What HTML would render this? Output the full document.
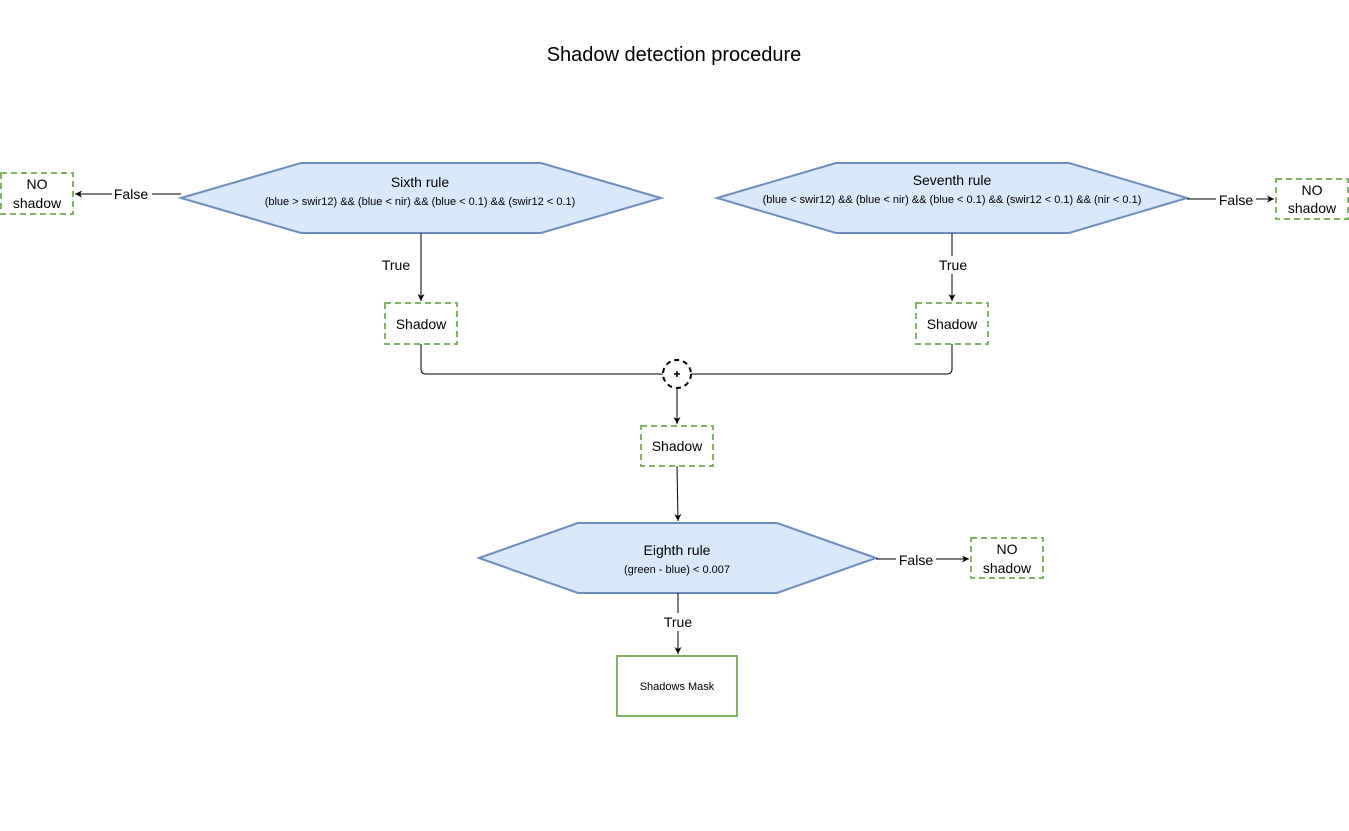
<!DOCTYPE html>
<html><head><meta charset="utf-8"><style>
body{margin:0;background:#fff}
svg text{font-family:"Liberation Sans",Arial,sans-serif;fill:#000}
</style></head><body>
<svg width="1349" height="826" viewBox="0 0 1349 826" xmlns="http://www.w3.org/2000/svg">
<defs><marker id="a" markerWidth="8" markerHeight="8" refX="7" refY="4" orient="auto" markerUnits="userSpaceOnUse"><path d="M0,0.5 L7,4 L0,7.5 L2,4 Z" fill="#000"/></marker></defs>
<text x="674" y="61" font-size="20" text-anchor="middle">Shadow detection procedure</text>
<g fill="#dae8fc" stroke="#6c8ebf" stroke-width="2">
<polygon points="181,198 301,163 541,163 661,198 541,233 301,233"/>
<polygon points="717,198 836,163 1069,163 1187,198 1069,233 836,233"/>
<polygon points="479,558 578,523 777,523 876,558 777,593 578,593"/>
</g>
<text x="420" y="187" font-size="14" text-anchor="middle">Sixth rule</text>
<text x="420" y="205" font-size="11" text-anchor="middle">(blue &gt; swir12) &amp;&amp; (blue &lt; nir) &amp;&amp; (blue &lt; 0.1) &amp;&amp; (swir12 &lt; 0.1)</text>
<text x="952" y="185" font-size="14" text-anchor="middle">Seventh rule</text>
<text x="952" y="203" font-size="11" text-anchor="middle">(blue &lt; swir12) &amp;&amp; (blue &lt; nir) &amp;&amp; (blue &lt; 0.1) &amp;&amp; (swir12 &lt; 0.1) &amp;&amp; (nir &lt; 0.1)</text>
<text x="677" y="555" font-size="14" text-anchor="middle">Eighth rule</text>
<text x="677" y="573" font-size="11" text-anchor="middle">(green - blue) &lt; 0.007</text>
<g fill="#fff" stroke="#82b366" stroke-width="2" stroke-dasharray="6,4">
<rect x="1" y="173" width="72" height="41"/>
<rect x="1276" y="179" width="72" height="40"/>
<rect x="971" y="538" width="72" height="40"/>
<rect x="385" y="303" width="72" height="41"/>
<rect x="916" y="303" width="72" height="41"/>
<rect x="641" y="426" width="72" height="40"/>
</g>
<rect x="617" y="656" width="120" height="60" fill="#fff" stroke="#82b366" stroke-width="2"/>
<g font-size="14" text-anchor="middle">
<text x="37" y="189">NO</text><text x="37" y="208">shadow</text>
<text x="1312" y="195">NO</text><text x="1312" y="213">shadow</text>
<text x="1007" y="554">NO</text><text x="1007" y="573">shadow</text>
<text x="421" y="329">Shadow</text>
<text x="952" y="329">Shadow</text>
<text x="677" y="451">Shadow</text>
<text x="677" y="690" font-size="11">Shadows Mask</text>
</g>
<g stroke="#000" stroke-width="1" fill="none">
<path d="M181,194 L75,194" marker-end="url(#a)"/>
<path d="M1187,199 L1274,199" marker-end="url(#a)"/>
<path d="M876,559 L969,559" marker-end="url(#a)"/>
<path d="M421,233 L421,301" marker-end="url(#a)"/>
<path d="M952,233 L952,301" marker-end="url(#a)"/>
<path d="M421,344 L421,369 Q421,374 426,374 L663,374"/>
<path d="M952,344 L952,369 Q952,374 947,374 L691,374"/>
<path d="M677,388 L677,424" marker-end="url(#a)"/>
<path d="M677,466 L678,521" marker-end="url(#a)"/>
<path d="M678,593 L678,654" marker-end="url(#a)"/>
</g>
<g font-size="14" text-anchor="middle">
<rect x="112" y="185" width="40" height="18" fill="#fff"/><text x="131" y="199">False</text>
<rect x="1216" y="190" width="40" height="18" fill="#fff"/><text x="1236" y="205">False</text>
<rect x="896" y="550" width="40" height="18" fill="#fff"/><text x="916" y="565">False</text>
<rect x="378" y="256" width="36" height="18" fill="#fff"/><text x="396" y="270">True</text>
<rect x="935" y="256" width="36" height="18" fill="#fff"/><text x="953" y="270">True</text>
<rect x="660" y="613" width="36" height="18" fill="#fff"/><text x="678" y="627">True</text>
</g>
<circle cx="677" cy="374" r="14" fill="#fff" stroke="#000" stroke-width="2" stroke-dasharray="5,4"/>
<path d="M674,374 L680,374 M677,371 L677,377" stroke="#000" stroke-width="1.5"/>
</svg>
</body></html>
